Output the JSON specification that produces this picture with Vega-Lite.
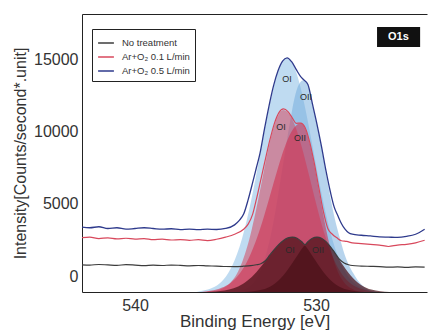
{
  "$schema": "https://vega.github.io/schema/vega-lite/v6.json",
  "width": 345,
  "height": 278,
  "autosize": {"type": "none"},
  "padding": {"left": 82, "top": 14, "right": 1, "bottom": 44},
  "config": {"view": {"stroke": null}, "font": "Liberation Sans"},
  "datasets": {
    "bOI": [
      {"e": 536.6, "v": -1111}, {"e": 536.1, "v": -980}, {"e": 535.6, "v": -749}, {"e": 535.35, "v": -539},
      {"e": 535.1, "v": -231}, {"e": 534.85, "v": 204}, {"e": 534.6, "v": 795}, {"e": 534.35, "v": 1574},
      {"e": 534.1, "v": 2556}, {"e": 533.85, "v": 3752}, {"e": 533.6, "v": 5151}, {"e": 533.35, "v": 6714},
      {"e": 533.1, "v": 8382}, {"e": 532.85, "v": 10068}, {"e": 532.6, "v": 11668}, {"e": 532.35, "v": 13070},
      {"e": 532.1, "v": 14165}, {"e": 531.85, "v": 14860}, {"e": 531.6, "v": 15100}, {"e": 531.35, "v": 14860},
      {"e": 531.1, "v": 14165}, {"e": 530.85, "v": 13070}, {"e": 530.6, "v": 11668}, {"e": 530.35, "v": 10068},
      {"e": 530.1, "v": 8382}, {"e": 529.85, "v": 6714}, {"e": 529.6, "v": 5151}, {"e": 529.35, "v": 3752},
      {"e": 529.1, "v": 2556}, {"e": 528.85, "v": 1574}, {"e": 528.6, "v": 795}, {"e": 528.35, "v": 204},
      {"e": 528.1, "v": -231}, {"e": 527.85, "v": -539}, {"e": 527.6, "v": -749}, {"e": 527.1, "v": -980},
      {"e": 526.6, "v": -1111}
    ],
    "bOII": [
      {"e": 534.7, "v": -1111}, {"e": 534.2, "v": -1016}, {"e": 533.7, "v": -746}, {"e": 533.45, "v": -451},
      {"e": 533.2, "v": 24}, {"e": 532.95, "v": 741}, {"e": 532.7, "v": 1764}, {"e": 532.45, "v": 3122},
      {"e": 532.2, "v": 4812}, {"e": 531.95, "v": 6759}, {"e": 531.7, "v": 8700}, {"e": 531.45, "v": 10600},
      {"e": 531.2, "v": 12300}, {"e": 530.95, "v": 13300}, {"e": 530.7, "v": 13600}, {"e": 530.45, "v": 13250},
      {"e": 530.2, "v": 11900}, {"e": 529.95, "v": 10500}, {"e": 529.7, "v": 8900}, {"e": 529.45, "v": 7100},
      {"e": 529.2, "v": 5400}, {"e": 528.95, "v": 3900}, {"e": 528.7, "v": 2700}, {"e": 528.45, "v": 1600},
      {"e": 528.2, "v": 800}, {"e": 527.95, "v": 200}, {"e": 527.7, "v": -300}, {"e": 527.45, "v": -650},
      {"e": 527.2, "v": -900}, {"e": 526.95, "v": -1050}, {"e": 526.7, "v": -1111}
    ],
    "rOI": [
      {"e": 536.3, "v": -1111}, {"e": 535.8, "v": -1062}, {"e": 535.3, "v": -931}, {"e": 534.8, "v": -556},
      {"e": 534.55, "v": -196}, {"e": 534.3, "v": 333}, {"e": 534.05, "v": 1068}, {"e": 533.8, "v": 2042},
      {"e": 533.55, "v": 3254}, {"e": 533.3, "v": 4676}, {"e": 533.05, "v": 6237}, {"e": 532.8, "v": 7821},
      {"e": 532.55, "v": 9287}, {"e": 532.3, "v": 10480}, {"e": 532.05, "v": 11258}, {"e": 531.8, "v": 11530},
      {"e": 531.55, "v": 11356}, {"e": 531.3, "v": 10846}, {"e": 531.05, "v": 10045}, {"e": 530.8, "v": 9011},
      {"e": 530.55, "v": 7821}, {"e": 530.3, "v": 6556}, {"e": 530.05, "v": 5289}, {"e": 529.8, "v": 4086},
      {"e": 529.55, "v": 2994}, {"e": 529.3, "v": 2042}, {"e": 529.05, "v": 1243}, {"e": 528.8, "v": 599},
      {"e": 528.3, "v": -280}, {"e": 527.8, "v": -749}, {"e": 527.3, "v": -971}, {"e": 526.8, "v": -1111}
    ],
    "rOII": [
      {"e": 536.35, "v": -1111}, {"e": 535.85, "v": -1022}, {"e": 535.35, "v": -886}, {"e": 534.85, "v": -597},
      {"e": 534.35, "v": -41}, {"e": 533.85, "v": 908}, {"e": 533.6, "v": 1563}, {"e": 533.35, "v": 2344},
      {"e": 533.1, "v": 3246}, {"e": 532.85, "v": 4250}, {"e": 532.6, "v": 5329}, {"e": 532.35, "v": 6436},
      {"e": 532.1, "v": 7520}, {"e": 531.85, "v": 8522}, {"e": 531.6, "v": 9381}, {"e": 531.35, "v": 10041},
      {"e": 531.1, "v": 10458}, {"e": 530.85, "v": 10600}, {"e": 530.6, "v": 10239}, {"e": 530.35, "v": 9224},
      {"e": 530.1, "v": 7728}, {"e": 529.85, "v": 5992}, {"e": 529.6, "v": 4250}, {"e": 529.35, "v": 2692},
      {"e": 529.1, "v": 1422}, {"e": 528.85, "v": 474}, {"e": 528.6, "v": -179}, {"e": 528.35, "v": -597},
      {"e": 527.85, "v": -981}, {"e": 527.35, "v": -1111}
    ],
    "dOI": [
      {"e": 536.3, "v": -1111}, {"e": 535.8, "v": -1089}, {"e": 535.3, "v": -1047}, {"e": 534.8, "v": -944},
      {"e": 534.3, "v": -727}, {"e": 533.8, "v": -337}, {"e": 533.3, "v": 262}, {"e": 533.05, "v": 634},
      {"e": 532.8, "v": 1036}, {"e": 532.55, "v": 1447}, {"e": 532.3, "v": 1842}, {"e": 532.05, "v": 2190},
      {"e": 531.8, "v": 2464}, {"e": 531.55, "v": 2640}, {"e": 531.3, "v": 2700}, {"e": 531.05, "v": 2618},
      {"e": 530.8, "v": 2383}, {"e": 530.55, "v": 2024}, {"e": 530.3, "v": 1582}, {"e": 530.05, "v": 1104},
      {"e": 529.8, "v": 634}, {"e": 529.55, "v": 205}, {"e": 529.3, "v": -161}, {"e": 528.8, "v": -676},
      {"e": 528.3, "v": -944}, {"e": 527.8, "v": -1057}, {"e": 527.3, "v": -1111}
    ],
    "dOII": [
      {"e": 533.95, "v": -1111}, {"e": 533.45, "v": -1057}, {"e": 532.95, "v": -944}, {"e": 532.45, "v": -676},
      {"e": 531.95, "v": -161}, {"e": 531.7, "v": 205}, {"e": 531.45, "v": 634}, {"e": 531.2, "v": 1104},
      {"e": 530.95, "v": 1582}, {"e": 530.7, "v": 2024}, {"e": 530.45, "v": 2383}, {"e": 530.2, "v": 2618},
      {"e": 529.95, "v": 2700}, {"e": 529.7, "v": 2618}, {"e": 529.45, "v": 2383}, {"e": 529.2, "v": 2024},
      {"e": 528.95, "v": 1582}, {"e": 528.7, "v": 1104}, {"e": 528.45, "v": 634}, {"e": 528.2, "v": 205},
      {"e": 527.95, "v": -161}, {"e": 527.45, "v": -676}, {"e": 526.95, "v": -944}, {"e": 526.45, "v": -1057},
      {"e": 525.95, "v": -1111}
    ],
    "lines": [
      {"s": "No treatment", "e": 543, "v": 780}, {"s": "No treatment", "e": 542.5, "v": 760}, {"s": "No treatment", "e": 542, "v": 800},
      {"s": "No treatment", "e": 541.5, "v": 770}, {"s": "No treatment", "e": 541, "v": 740}, {"s": "No treatment", "e": 540.5, "v": 790},
      {"s": "No treatment", "e": 540, "v": 760}, {"s": "No treatment", "e": 539.5, "v": 720}, {"s": "No treatment", "e": 539, "v": 750},
      {"s": "No treatment", "e": 538.5, "v": 730}, {"s": "No treatment", "e": 538, "v": 760}, {"s": "No treatment", "e": 537.5, "v": 740},
      {"s": "No treatment", "e": 537, "v": 710}, {"s": "No treatment", "e": 536.5, "v": 730}, {"s": "No treatment", "e": 536, "v": 700},
      {"s": "No treatment", "e": 535.5, "v": 690}, {"s": "No treatment", "e": 535, "v": 660}, {"s": "No treatment", "e": 534.5, "v": 650},
      {"s": "No treatment", "e": 534, "v": 680}, {"s": "No treatment", "e": 533.6, "v": 720}, {"s": "No treatment", "e": 533.3, "v": 780},
      {"s": "No treatment", "e": 533.05, "v": 850}, {"s": "No treatment", "e": 532.8, "v": 1060}, {"s": "No treatment", "e": 532.55, "v": 1460},
      {"s": "No treatment", "e": 532.3, "v": 1850}, {"s": "No treatment", "e": 532.05, "v": 2200}, {"s": "No treatment", "e": 531.8, "v": 2470},
      {"s": "No treatment", "e": 531.55, "v": 2645}, {"s": "No treatment", "e": 531.3, "v": 2705}, {"s": "No treatment", "e": 531.05, "v": 2625},
      {"s": "No treatment", "e": 530.8, "v": 2390}, {"s": "No treatment", "e": 530.6, "v": 2180}, {"s": "No treatment", "e": 530.45, "v": 2390},
      {"s": "No treatment", "e": 530.2, "v": 2625}, {"s": "No treatment", "e": 529.95, "v": 2705}, {"s": "No treatment", "e": 529.7, "v": 2625},
      {"s": "No treatment", "e": 529.45, "v": 2390}, {"s": "No treatment", "e": 529.2, "v": 2030}, {"s": "No treatment", "e": 528.95, "v": 1590},
      {"s": "No treatment", "e": 528.7, "v": 1150}, {"s": "No treatment", "e": 528.45, "v": 900}, {"s": "No treatment", "e": 528.2, "v": 780},
      {"s": "No treatment", "e": 528, "v": 730}, {"s": "No treatment", "e": 527.5, "v": 690}, {"s": "No treatment", "e": 527, "v": 670},
      {"s": "No treatment", "e": 526.5, "v": 650}, {"s": "No treatment", "e": 526, "v": 610}, {"s": "No treatment", "e": 525.5, "v": 630},
      {"s": "No treatment", "e": 525, "v": 600}, {"s": "No treatment", "e": 524.5, "v": 640}, {"s": "No treatment", "e": 524, "v": 620},

      {"s": "Ar+O₂ 0.1 L/min", "e": 543, "v": 2650}, {"s": "Ar+O₂ 0.1 L/min", "e": 542.5, "v": 2700}, {"s": "Ar+O₂ 0.1 L/min", "e": 542, "v": 2600},
      {"s": "Ar+O₂ 0.1 L/min", "e": 541.5, "v": 2650}, {"s": "Ar+O₂ 0.1 L/min", "e": 541, "v": 2580}, {"s": "Ar+O₂ 0.1 L/min", "e": 540.5, "v": 2620},
      {"s": "Ar+O₂ 0.1 L/min", "e": 540, "v": 2560}, {"s": "Ar+O₂ 0.1 L/min", "e": 539.5, "v": 2600}, {"s": "Ar+O₂ 0.1 L/min", "e": 539, "v": 2520},
      {"s": "Ar+O₂ 0.1 L/min", "e": 538.5, "v": 2560}, {"s": "Ar+O₂ 0.1 L/min", "e": 538, "v": 2500}, {"s": "Ar+O₂ 0.1 L/min", "e": 537.5, "v": 2530},
      {"s": "Ar+O₂ 0.1 L/min", "e": 537, "v": 2480}, {"s": "Ar+O₂ 0.1 L/min", "e": 536.5, "v": 2520}, {"s": "Ar+O₂ 0.1 L/min", "e": 536, "v": 2460},
      {"s": "Ar+O₂ 0.1 L/min", "e": 535.5, "v": 2550}, {"s": "Ar+O₂ 0.1 L/min", "e": 535, "v": 2700}, {"s": "Ar+O₂ 0.1 L/min", "e": 534.5, "v": 2900},
      {"s": "Ar+O₂ 0.1 L/min", "e": 534, "v": 3250}, {"s": "Ar+O₂ 0.1 L/min", "e": 533.75, "v": 3600}, {"s": "Ar+O₂ 0.1 L/min", "e": 533.5, "v": 4300},
      {"s": "Ar+O₂ 0.1 L/min", "e": 533.3, "v": 5300}, {"s": "Ar+O₂ 0.1 L/min", "e": 533.05, "v": 6700}, {"s": "Ar+O₂ 0.1 L/min", "e": 532.8, "v": 8100},
      {"s": "Ar+O₂ 0.1 L/min", "e": 532.55, "v": 9450}, {"s": "Ar+O₂ 0.1 L/min", "e": 532.3, "v": 10600}, {"s": "Ar+O₂ 0.1 L/min", "e": 532.05, "v": 11350},
      {"s": "Ar+O₂ 0.1 L/min", "e": 531.8, "v": 11600}, {"s": "Ar+O₂ 0.1 L/min", "e": 531.55, "v": 11420}, {"s": "Ar+O₂ 0.1 L/min", "e": 531.3, "v": 10950},
      {"s": "Ar+O₂ 0.1 L/min", "e": 531.1, "v": 10600}, {"s": "Ar+O₂ 0.1 L/min", "e": 530.85, "v": 10620}, {"s": "Ar+O₂ 0.1 L/min", "e": 530.6, "v": 10300},
      {"s": "Ar+O₂ 0.1 L/min", "e": 530.35, "v": 9300}, {"s": "Ar+O₂ 0.1 L/min", "e": 530.1, "v": 7850}, {"s": "Ar+O₂ 0.1 L/min", "e": 529.85, "v": 6150},
      {"s": "Ar+O₂ 0.1 L/min", "e": 529.6, "v": 4500}, {"s": "Ar+O₂ 0.1 L/min", "e": 529.35, "v": 3300}, {"s": "Ar+O₂ 0.1 L/min", "e": 529.1, "v": 2900},
      {"s": "Ar+O₂ 0.1 L/min", "e": 528.85, "v": 2650}, {"s": "Ar+O₂ 0.1 L/min", "e": 528.6, "v": 2450}, {"s": "Ar+O₂ 0.1 L/min", "e": 528.3, "v": 2400},
      {"s": "Ar+O₂ 0.1 L/min", "e": 528, "v": 2300}, {"s": "Ar+O₂ 0.1 L/min", "e": 527.5, "v": 2250}, {"s": "Ar+O₂ 0.1 L/min", "e": 527, "v": 2200},
      {"s": "Ar+O₂ 0.1 L/min", "e": 526.5, "v": 2150}, {"s": "Ar+O₂ 0.1 L/min", "e": 526, "v": 2050}, {"s": "Ar+O₂ 0.1 L/min", "e": 525.5, "v": 2150},
      {"s": "Ar+O₂ 0.1 L/min", "e": 525, "v": 2200}, {"s": "Ar+O₂ 0.1 L/min", "e": 524.5, "v": 2300}, {"s": "Ar+O₂ 0.1 L/min", "e": 524, "v": 2480},

      {"s": "Ar+O₂ 0.5 L/min", "e": 543, "v": 3400}, {"s": "Ar+O₂ 0.5 L/min", "e": 542.5, "v": 3350}, {"s": "Ar+O₂ 0.5 L/min", "e": 542, "v": 3420},
      {"s": "Ar+O₂ 0.5 L/min", "e": 541.5, "v": 3300}, {"s": "Ar+O₂ 0.5 L/min", "e": 541, "v": 3350}, {"s": "Ar+O₂ 0.5 L/min", "e": 540.5, "v": 3250},
      {"s": "Ar+O₂ 0.5 L/min", "e": 540, "v": 3300}, {"s": "Ar+O₂ 0.5 L/min", "e": 539.5, "v": 3350}, {"s": "Ar+O₂ 0.5 L/min", "e": 539, "v": 3300},
      {"s": "Ar+O₂ 0.5 L/min", "e": 538.5, "v": 3250}, {"s": "Ar+O₂ 0.5 L/min", "e": 538, "v": 3280}, {"s": "Ar+O₂ 0.5 L/min", "e": 537.5, "v": 3220},
      {"s": "Ar+O₂ 0.5 L/min", "e": 537, "v": 3250}, {"s": "Ar+O₂ 0.5 L/min", "e": 536.5, "v": 3220}, {"s": "Ar+O₂ 0.5 L/min", "e": 536, "v": 3250},
      {"s": "Ar+O₂ 0.5 L/min", "e": 535.5, "v": 3230}, {"s": "Ar+O₂ 0.5 L/min", "e": 535, "v": 3300}, {"s": "Ar+O₂ 0.5 L/min", "e": 534.5, "v": 3550},
      {"s": "Ar+O₂ 0.5 L/min", "e": 534.25, "v": 3850}, {"s": "Ar+O₂ 0.5 L/min", "e": 534, "v": 4300}, {"s": "Ar+O₂ 0.5 L/min", "e": 533.75, "v": 5300},
      {"s": "Ar+O₂ 0.5 L/min", "e": 533.5, "v": 6500}, {"s": "Ar+O₂ 0.5 L/min", "e": 533.3, "v": 7500}, {"s": "Ar+O₂ 0.5 L/min", "e": 533.1, "v": 8500},
      {"s": "Ar+O₂ 0.5 L/min", "e": 532.85, "v": 10200}, {"s": "Ar+O₂ 0.5 L/min", "e": 532.6, "v": 11800}, {"s": "Ar+O₂ 0.5 L/min", "e": 532.35, "v": 13200},
      {"s": "Ar+O₂ 0.5 L/min", "e": 532.1, "v": 14250}, {"s": "Ar+O₂ 0.5 L/min", "e": 531.85, "v": 14920}, {"s": "Ar+O₂ 0.5 L/min", "e": 531.6, "v": 15150},
      {"s": "Ar+O₂ 0.5 L/min", "e": 531.35, "v": 14880}, {"s": "Ar+O₂ 0.5 L/min", "e": 531.1, "v": 14350}, {"s": "Ar+O₂ 0.5 L/min", "e": 530.85, "v": 13850},
      {"s": "Ar+O₂ 0.5 L/min", "e": 530.7, "v": 13650}, {"s": "Ar+O₂ 0.5 L/min", "e": 530.45, "v": 13300}, {"s": "Ar+O₂ 0.5 L/min", "e": 530.2, "v": 11950},
      {"s": "Ar+O₂ 0.5 L/min", "e": 529.95, "v": 10550}, {"s": "Ar+O₂ 0.5 L/min", "e": 529.7, "v": 9000}, {"s": "Ar+O₂ 0.5 L/min", "e": 529.45, "v": 7300},
      {"s": "Ar+O₂ 0.5 L/min", "e": 529.2, "v": 5800}, {"s": "Ar+O₂ 0.5 L/min", "e": 529, "v": 4800}, {"s": "Ar+O₂ 0.5 L/min", "e": 528.8, "v": 4200},
      {"s": "Ar+O₂ 0.5 L/min", "e": 528.6, "v": 3650}, {"s": "Ar+O₂ 0.5 L/min", "e": 528.4, "v": 3250}, {"s": "Ar+O₂ 0.5 L/min", "e": 528.2, "v": 3000},
      {"s": "Ar+O₂ 0.5 L/min", "e": 528, "v": 2900}, {"s": "Ar+O₂ 0.5 L/min", "e": 527.5, "v": 2830}, {"s": "Ar+O₂ 0.5 L/min", "e": 527, "v": 2780},
      {"s": "Ar+O₂ 0.5 L/min", "e": 526.5, "v": 2720}, {"s": "Ar+O₂ 0.5 L/min", "e": 526, "v": 2700}, {"s": "Ar+O₂ 0.5 L/min", "e": 525.5, "v": 2680},
      {"s": "Ar+O₂ 0.5 L/min", "e": 525, "v": 2750}, {"s": "Ar+O₂ 0.5 L/min", "e": 524.5, "v": 2900}, {"s": "Ar+O₂ 0.5 L/min", "e": 524, "v": 3250}
    ],
    "labels": [
      {"t": "OI", "e": 531.6, "v": 13680}, {"t": "OII", "e": 530.55, "v": 12430},
      {"t": "OI", "e": 531.93, "v": 10350}, {"t": "OII", "e": 530.88, "v": 9580},
      {"t": "OI", "e": 531.44, "v": 1800}, {"t": "OII", "e": 529.89, "v": 1800}
    ],
    "xminor": [
      {"e": 524}, {"e": 525}, {"e": 526}, {"e": 527}, {"e": 528}, {"e": 529}, {"e": 531}, {"e": 532}, {"e": 533},
      {"e": 534}, {"e": 535}, {"e": 536}, {"e": 537}, {"e": 538}, {"e": 539}, {"e": 541}, {"e": 542}
    ],
    "xmajor": [{"e": 530}, {"e": 540}],
    "yminor": [
      {"v": -1000}, {"v": 1000}, {"v": 2000}, {"v": 3000}, {"v": 4000}, {"v": 6000}, {"v": 7000}, {"v": 8000},
      {"v": 9000}, {"v": 11000}, {"v": 12000}, {"v": 13000}, {"v": 14000}, {"v": 16000}, {"v": 17000}, {"v": 18000}
    ],
    "ymajor": [{"v": 0}, {"v": 5000}, {"v": 10000}, {"v": 15000}],
    "tag": [{"t": "O1s", "e": 525.45, "v": 16600}]
  },
  "layer": [
    {
      "encoding": {
        "x": {
          "field": "e", "type": "quantitative",
          "scale": {"domain": [523.87, 542.93], "reverse": true, "nice": false, "zero": false},
          "axis": {
            "orient": "bottom", "values": [530, 540], "format": "d", "ticks": false, "tickSize": 0,
            "labelPadding": 5, "labelFontSize": 16, "labelOverlap": false, "labelFlush": false,
            "labelColor": "#333", "domainColor": "#222", "grid": false,
            "title": "Binding Energy [eV]", "titleFontSize": 17, "titleFontWeight": "normal",
            "titleColor": "#333", "titlePadding": 0
          }
        },
        "y": {
          "field": "v", "type": "quantitative",
          "scale": {"domain": [-1111, 18194], "nice": false, "zero": false},
          "axis": {
            "orient": "left", "values": [0, 5000, 10000, 15000], "format": "d", "ticks": false, "tickSize": 0,
            "labelPadding": 4, "labelFontSize": 16, "labelOverlap": false, "labelFlush": false,
            "labelColor": "#333", "domainColor": "#222", "grid": false,
            "title": "Intensity[Counts/second*.unit]", "titleFontSize": 16, "titleFontWeight": "normal",
            "titleColor": "#333", "titlePadding": 5
          }
        }
      },
      "layer": [
        {"data": {"name": "bOI"}, "mark": {"type": "area", "color": "#b8d7f0", "opacity": 0.9, "interpolate": "monotone", "clip": true}, "encoding": {"y2": {"datum": -1111}}},
        {"data": {"name": "bOII"}, "mark": {"type": "area", "color": "#6fa9dc", "opacity": 0.5, "interpolate": "monotone", "clip": true}, "encoding": {"y2": {"datum": -1111}}},
        {"data": {"name": "lines"}, "transform": [{"filter": "datum.s === 'Ar+O₂ 0.5 L/min'"}], "mark": {"type": "line", "strokeWidth": 1.3, "interpolate": "monotone", "clip": true},
          "encoding": {"color": {"field": "s", "type": "nominal",
            "scale": {"domain": ["No treatment", "Ar+O₂ 0.1 L/min", "Ar+O₂ 0.5 L/min"], "range": ["#3c3c3c", "#d8485c", "#2e3a8c"]},
            "legend": {"orient": "none", "legendX": 10, "legendY": 15, "title": null, "symbolType": "stroke", "symbolSize": 250, "symbolStrokeWidth": 1.5,
              "labelFontSize": 9.5, "labelColor": "#333", "strokeColor": "#222", "fillColor": "white", "padding": 5, "rowPadding": 0, "labelOffset": 7}}}},
        {"data": {"name": "rOI"}, "mark": {"type": "area", "color": "#d4475e", "opacity": 0.55, "interpolate": "monotone", "clip": true}, "encoding": {"y2": {"datum": -1111}}},
        {"data": {"name": "rOII"}, "mark": {"type": "area", "color": "#d03050", "opacity": 0.6, "interpolate": "monotone", "clip": true}, "encoding": {"y2": {"datum": -1111}}},
        {"data": {"name": "lines"}, "transform": [{"filter": "datum.s === 'Ar+O₂ 0.1 L/min'"}], "mark": {"type": "line", "strokeWidth": 1.2, "interpolate": "monotone", "clip": true},
          "encoding": {"color": {"field": "s", "type": "nominal"}}},
        {"data": {"name": "dOI"}, "mark": {"type": "area", "color": "#4a1018", "opacity": 0.72, "interpolate": "monotone", "clip": true}, "encoding": {"y2": {"datum": -1111}}},
        {"data": {"name": "dOII"}, "mark": {"type": "area", "color": "#4a1018", "opacity": 0.72, "interpolate": "monotone", "clip": true}, "encoding": {"y2": {"datum": -1111}}},
        {"data": {"name": "lines"}, "transform": [{"filter": "datum.s === 'No treatment'"}], "mark": {"type": "line", "strokeWidth": 1.2, "interpolate": "monotone", "clip": true},
          "encoding": {"color": {"field": "s", "type": "nominal"}}},
        {"data": {"name": "labels"}, "mark": {"type": "text", "fontSize": 9, "color": "#2a2a2a"}, "encoding": {"text": {"field": "t"}}},
        {"data": {"name": "xminor"}, "mark": {"type": "tick", "orient": "vertical", "size": 8, "thickness": 1, "color": "#222", "opacity": 1, "clip": true},
          "encoding": {"y": {"datum": -1111, "type": "quantitative"}}},
        {"data": {"name": "xminor"}, "mark": {"type": "tick", "orient": "vertical", "size": 8, "thickness": 1, "color": "#222", "opacity": 1, "clip": true},
          "encoding": {"y": {"datum": 18194, "type": "quantitative"}}},
        {"data": {"name": "xmajor"}, "mark": {"type": "tick", "orient": "vertical", "size": 16, "thickness": 1, "color": "#222", "opacity": 1, "clip": true},
          "encoding": {"y": {"datum": -1111, "type": "quantitative"}}},
        {"data": {"name": "xmajor"}, "mark": {"type": "tick", "orient": "vertical", "size": 16, "thickness": 1, "color": "#222", "opacity": 1, "clip": true},
          "encoding": {"y": {"datum": 18194, "type": "quantitative"}}},
        {"data": {"name": "yminor"}, "mark": {"type": "tick", "orient": "horizontal", "size": 8, "thickness": 1, "color": "#222", "opacity": 1, "clip": true},
          "encoding": {"x": {"datum": 542.93, "type": "quantitative"}}},
        {"data": {"name": "ymajor"}, "mark": {"type": "tick", "orient": "horizontal", "size": 16, "thickness": 1, "color": "#222", "opacity": 1, "clip": true},
          "encoding": {"x": {"datum": 542.93, "type": "quantitative"}}}
      ]
    },
    {
      "data": {"values": [{}]},
      "mark": {"type": "rect", "color": "#111"},
      "encoding": {
        "x": {"datum": 526.63, "type": "quantitative",
          "scale": {"domain": [523.87, 542.93], "reverse": true, "nice": false, "zero": false},
          "axis": {"orient": "top", "ticks": false, "values": [530, 540],
            "labels": false, "title": null, "grid": false, "domainColor": "#222"}},
        "x2": {"datum": 524.25},
        "y": {"datum": 17290, "type": "quantitative", "scale": {"domain": [-1111, 18194], "nice": false, "zero": false}, "axis": null},
        "y2": {"datum": 15900}
      }
    },
    {
      "data": {"name": "tag"},
      "mark": {"type": "text", "fontSize": 11, "fontWeight": "bold", "color": "white"},
      "encoding": {
        "x": {"field": "e", "type": "quantitative",
          "scale": {"domain": [523.87, 542.93], "reverse": true, "nice": false, "zero": false}, "axis": null},
        "y": {"field": "v", "type": "quantitative", "scale": {"domain": [-1111, 18194], "nice": false, "zero": false}, "axis": null},
        "text": {"field": "t"}
      }
    }
  ],
  "resolve": {"axis": {"x": "independent", "y": "independent"}}
}
